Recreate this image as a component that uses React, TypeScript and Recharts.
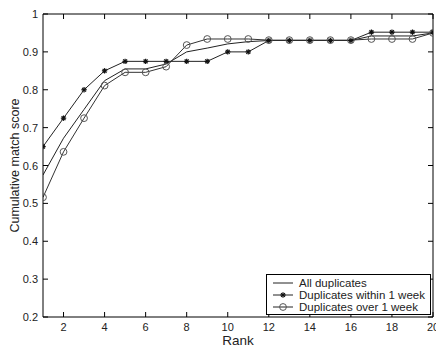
import React from 'react';
import { LineChart, Line, XAxis, YAxis } from 'recharts';

const ranks = [1, 2, 3, 4, 5, 6, 7, 8, 9, 10, 11, 12, 13, 14, 15, 16, 17, 18, 19, 20];
const allDuplicates = [0.575, 0.672, 0.748, 0.824, 0.855, 0.855, 0.868, 0.9, 0.91, 0.921, 0.927, 0.93, 0.93, 0.93, 0.93, 0.93, 0.942, 0.942, 0.942, 0.95];
const withinWeek = [0.65, 0.725, 0.8, 0.85, 0.875, 0.875, 0.875, 0.875, 0.875, 0.9, 0.9, 0.93, 0.93, 0.93, 0.93, 0.93, 0.952, 0.952, 0.952, 0.952];
const overWeek = [0.516, 0.636, 0.725, 0.811, 0.846, 0.846, 0.861, 0.918, 0.934, 0.934, 0.934, 0.931, 0.931, 0.931, 0.931, 0.931, 0.934, 0.934, 0.934, 0.95];
const xTicks = [2, 4, 6, 8, 10, 12, 14, 16, 18, 20];
const yTicks = [0.2, 0.3, 0.4, 0.5, 0.6, 0.7, 0.8, 0.9, 1];
const seriesNames = ['All duplicates', 'Duplicates within 1 week', 'Duplicates over 1 week'];

const data = ranks.map((r, i) => ({ rank: r, all: allDuplicates[i], within: withinWeek[i], over: overWeek[i] }));

const FONT = '"Liberation Sans", Arial, Helvetica, sans-serif';
const TICK = 5;

const BottomTick = (p: any) => (
  <g>
    <line x1={p.x} x2={p.x} y1={p.y} y2={p.y - TICK} stroke="#000" />
    <text x={p.x} y={p.y + 14} textAnchor="middle" fontSize={11} fontFamily={FONT} fill="#222">{p.payload.value}</text>
  </g>
);
const TopTick = (p: any) => <line x1={p.x} x2={p.x} y1={p.y} y2={p.y + TICK} stroke="#000" />;
const LeftTick = (p: any) => (
  <g>
    <line x1={p.x} x2={p.x + TICK} y1={p.y} y2={p.y} stroke="#000" />
    <text x={p.x - 5} y={p.y + 4} textAnchor="end" fontSize={11} fontFamily={FONT} fill="#222">{String(p.payload.value)}</text>
  </g>
);
const RightTick = (p: any) => <line x1={p.x} x2={p.x - TICK} y1={p.y} y2={p.y} stroke="#000" />;

const Star = ({ cx, cy }: any) => {
  if (cx == null || cy == null) return null;
  const r = 2.7;
  const d = r * 0.72;
  return (
    <g stroke="#111" strokeWidth={1.2}>
      <line x1={cx - r} x2={cx + r} y1={cy} y2={cy} />
      <line x1={cx} x2={cx} y1={cy - r} y2={cy + r} />
      <line x1={cx - d} x2={cx + d} y1={cy - d} y2={cy + d} />
      <line x1={cx - d} x2={cx + d} y1={cy + d} y2={cy - d} />
    </g>
  );
};
const Ring = ({ cx, cy }: any) => {
  if (cx == null || cy == null) return null;
  return <circle cx={cx} cy={cy} r={3.4} fill="none" stroke="#555" strokeWidth={1} />;
};

const LegendBox = () => (
  <div style={{ position: 'absolute', left: 266, top: 274, width: 163, height: 39, border: '1px solid #000', background: '#fff', fontFamily: FONT, fontSize: 11.5, color: '#222' }}>
    {seriesNames.map((name, i) => (
      <div key={name} style={{ position: 'absolute', left: 0, top: 2 + i * 12, height: 12, display: 'flex', alignItems: 'center', whiteSpace: 'nowrap' }}>
        <svg width={32} height={12} style={{ display: 'block' }}>
          <line x1={6} x2={26} y1={6} y2={6} stroke="#222" strokeWidth={1} />
          {i === 1 && <Star cx={16} cy={6} />}
          {i === 2 && <Ring cx={16} cy={6} />}
        </svg>
        <span style={{ lineHeight: '12px' }}>{name}</span>
      </div>
    ))}
  </div>
);

export default function App() {
  return (
    <div style={{ position: 'absolute', left: 0, top: 0, width: 436, height: 348, background: '#fff' }}>
      <LineChart width={436} height={348} data={data} margin={{ top: 0, right: 0, bottom: 0, left: 0 }}>
        <XAxis dataKey="rank" type="number" domain={[1, 20]} allowDataOverflow ticks={xTicks} tickSize={0} tickMargin={0}
          tick={<BottomTick />} height={31} stroke="#000" interval={0}
          label={{ value: 'Rank', position: 'insideBottom', offset: 3, fontSize: 13.5, fontFamily: FONT, fill: '#222' }} />
        <XAxis xAxisId="top" orientation="top" dataKey="rank" type="number" domain={[1, 20]} allowDataOverflow ticks={xTicks}
          tickSize={0} tickMargin={0} tick={<TopTick />} height={14} stroke="#000" interval={0} />
        <YAxis type="number" domain={[0.2, 1]} allowDataOverflow ticks={yTicks} tickSize={0} tickMargin={0} tick={<LeftTick />}
          width={43} stroke="#000" interval={0}
          label={{ value: 'Cumulative match score', angle: -90, position: 'insideLeft', offset: 15, style: { textAnchor: 'middle' }, fontSize: 12.5, fontFamily: FONT, fill: '#222' }} />
        <YAxis yAxisId="right" orientation="right" type="number" domain={[0.2, 1]} allowDataOverflow ticks={yTicks} tickSize={0}
          tickMargin={0} tick={<RightTick />} width={3} stroke="#000" interval={0} />
        <Line dataKey="all" stroke="#222" strokeWidth={1} dot={false} isAnimationActive={false} />
        <Line dataKey="within" stroke="#222" strokeWidth={1} dot={<Star />} isAnimationActive={false} />
        <Line dataKey="over" stroke="#333" strokeWidth={1} dot={<Ring />} isAnimationActive={false} />
      </LineChart>
      <LegendBox />
    </div>
  );
}
